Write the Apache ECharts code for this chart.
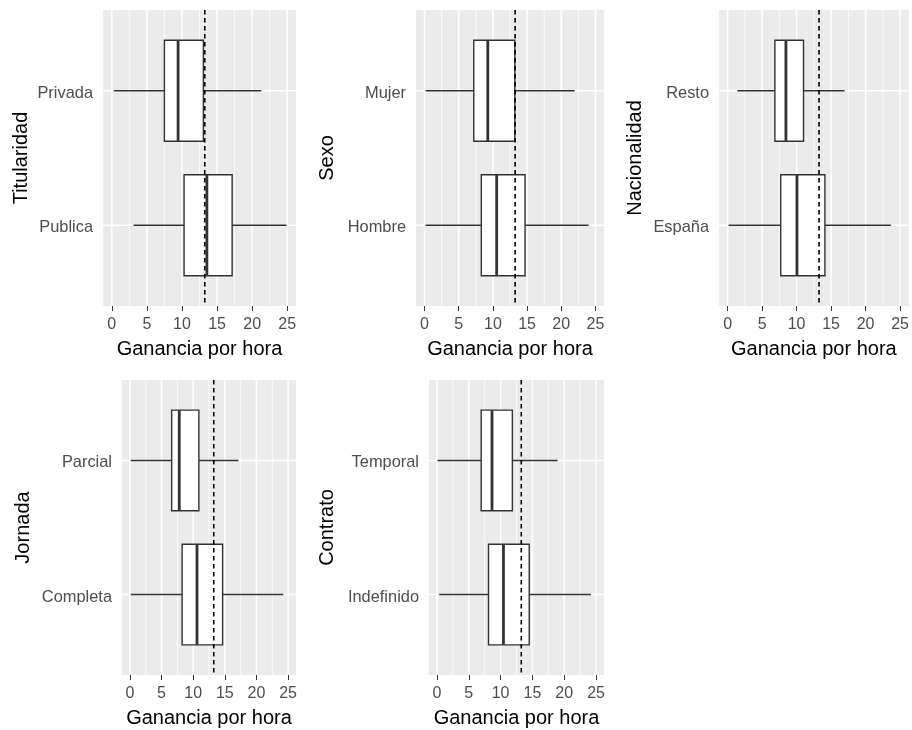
<!DOCTYPE html>
<html>
<head>
<meta charset="utf-8">
<script src="https://cdn.jsdelivr.net/npm/echarts@6/dist/echarts.min.js"></script>
<style>
html,body{margin:0;padding:0;background:#fff;}
#chart{width:912px;height:730px;}
</style>
</head>
<body>
<div id="chart"></div>
<script>
// ---- Data ----
const xTicks = [0, 5, 10, 15, 20, 25];
const xMinorTicks = [2.5, 7.5, 12.5, 17.5, 22.5];
const meanLine = 13.25;
const xTitle = 'Ganancia por hora';

// categories listed bottom-to-top; stats = [low whisker, Q1, median, Q3, high whisker]
const titularidadCats = ['Publica', 'Privada'];
const titularidadStats = [[3.1, 10.3, 13.55, 17.15, 24.9], [0.3, 7.5, 9.45, 13.05, 21.3]];

const sexoCats = ['Hombre', 'Mujer'];
const sexoStats = [[0.15, 8.3, 10.55, 14.7, 24.0], [0.15, 7.2, 9.25, 13.2, 21.95]];

const nacionalidadCats = ['España', 'Resto'];
const nacionalidadStats = [[0.15, 7.7, 10.05, 14.1, 23.65], [1.4, 6.85, 8.45, 11.0, 16.95]];

const jornadaCats = ['Completa', 'Parcial'];
const jornadaStats = [[0.15, 8.25, 10.6, 14.65, 24.25], [0.15, 6.6, 7.8, 10.9, 17.15]];

const contratoCats = ['Indefinido', 'Temporal'];
const contratoStats = [[0.35, 8.1, 10.45, 14.5, 24.2], [0.1, 6.95, 8.65, 11.85, 18.95]];

// ---- Layout ----
const panels = [
  {title: 'Titularidad', cats: titularidadCats, stats: titularidadStats, left: 103, top: 10, width: 193, height: 296, nameGap: 72},
  {title: 'Sexo', cats: sexoCats, stats: sexoStats, left: 416, top: 10, width: 188, height: 296, nameGap: 79},
  {title: 'Nacionalidad', cats: nacionalidadCats, stats: nacionalidadStats, left: 719, top: 10, width: 190, height: 296, nameGap: 74},
  {title: 'Jornada', cats: jornadaCats, stats: jornadaStats, left: 122, top: 380, width: 174, height: 295, nameGap: 89},
  {title: 'Contrato', cats: contratoCats, stats: contratoStats, left: 429, top: 380, width: 175, height: 295, nameGap: 92}
];

const FONT = 'Liberation Sans, Arial, sans-serif';
const grid = [], xAxis = [], yAxis = [], series = [];

panels.forEach((p, i) => {
  grid.push({left: p.left, top: p.top, width: p.width, height: p.height, show: true,
    backgroundColor: '#EBEBEB', borderWidth: 0, containLabel: false});
  xAxis.push({
    type: 'value', gridIndex: i, min: -1.25, max: 26.25,
    name: xTitle, nameLocation: 'middle', nameGap: 33,
    nameTextStyle: {color: '#000', fontSize: 20, fontFamily: FONT},
    axisLine: {show: false},
    axisTick: {show: true, length: 5, customValues: xTicks, lineStyle: {color: '#333', width: 1}},
    axisLabel: {show: true, customValues: xTicks, margin: 11, color: '#4D4D4D', fontSize: 16, fontFamily: FONT},
    splitLine: {show: false}, minorSplitLine: {show: false}
  });
  yAxis.push({
    type: 'value', gridIndex: i, min: 0.4, max: 2.6,
    name: p.title, nameLocation: 'middle', nameGap: p.nameGap, nameRotate: 90,
    nameTextStyle: {color: '#000', fontSize: 20, fontFamily: FONT},
    axisLine: {show: false},
    axisTick: {show: true, length: 5, customValues: [1, 2], lineStyle: {color: '#333', width: 1}},
    axisLabel: {show: true, customValues: [1, 2], margin: 10, color: '#4D4D4D', fontSize: 16.4, fontFamily: FONT,
      verticalAlign: 'top', lineHeight: 5,
      formatter: (v) => p.cats[Math.round(v) - 1] || ''},
    splitLine: {show: false}
  });

  // vertical grid lines (major + minor)
  const vData = xTicks.map(v => [v, 1]).concat(xMinorTicks.map(v => [v, 0]));
  series.push({
    type: 'custom', xAxisIndex: i, yAxisIndex: i, z: 1, silent: true,
    data: vData,
    renderItem: (params, api) => {
      const x = api.coord([api.value(0), 1])[0];
      const cs = params.coordSys;
      return {type: 'line', shape: {x1: x, y1: cs.y, x2: x, y2: cs.y + cs.height},
        style: {stroke: '#FFFFFF', lineWidth: api.value(1) ? 1.6 : 0.8}};
    }
  });
  // horizontal grid lines at categories
  series.push({
    type: 'custom', xAxisIndex: i, yAxisIndex: i, z: 1, silent: true,
    data: p.cats.map((c, k) => [k + 1]),
    renderItem: (params, api) => {
      const y = api.coord([0, api.value(0)])[1];
      const cs = params.coordSys;
      return {type: 'line', shape: {x1: cs.x, y1: y, x2: cs.x + cs.width, y2: y},
        style: {stroke: '#FFFFFF', lineWidth: 1.6}};
    }
  });
  // box plots
  series.push({
    type: 'custom', xAxisIndex: i, yAxisIndex: i, z: 3, silent: true,
    data: p.stats.map((s, k) => [k + 1].concat(s)),
    renderItem: (params, api) => {
      const c = api.value(0);
      const yc = api.coord([0, c])[1];
      const half = api.size([0, 0.375])[1];
      const xs = [1, 2, 3, 4, 5].map(j => api.coord([api.value(j), c])[0]);
      const st = {stroke: '#333333', lineWidth: 1.4};
      return {type: 'group', children: [
        {type: 'line', shape: {x1: xs[0], y1: yc, x2: xs[1], y2: yc}, style: st},
        {type: 'line', shape: {x1: xs[3], y1: yc, x2: xs[4], y2: yc}, style: st},
        {type: 'rect', shape: {x: xs[1], y: yc - half, width: xs[3] - xs[1], height: 2 * half},
          style: {fill: '#FFFFFF', stroke: '#333333', lineWidth: 1.4}},
        {type: 'line', shape: {x1: xs[2], y1: yc - half, x2: xs[2], y2: yc + half},
          style: {stroke: '#333333', lineWidth: 2.8}}
      ]};
    }
  });
  // dashed reference line
  series.push({
    type: 'custom', xAxisIndex: i, yAxisIndex: i, z: 5, silent: true,
    data: [[meanLine]],
    renderItem: (params, api) => {
      const x = api.coord([api.value(0), 1])[0];
      const cs = params.coordSys;
      return {type: 'line', shape: {x1: x, y1: cs.y, x2: x, y2: cs.y + cs.height},
        style: {stroke: '#000000', lineWidth: 1.6, lineDash: [4.5, 3.5]}};
    }
  });
});

const chart = echarts.init(document.getElementById('chart'), null, {renderer: 'canvas'});
chart.setOption({
  animation: false,
  backgroundColor: '#FFFFFF',
  textStyle: {fontFamily: FONT},
  grid, xAxis, yAxis, series
});
</script>
</body>
</html>
